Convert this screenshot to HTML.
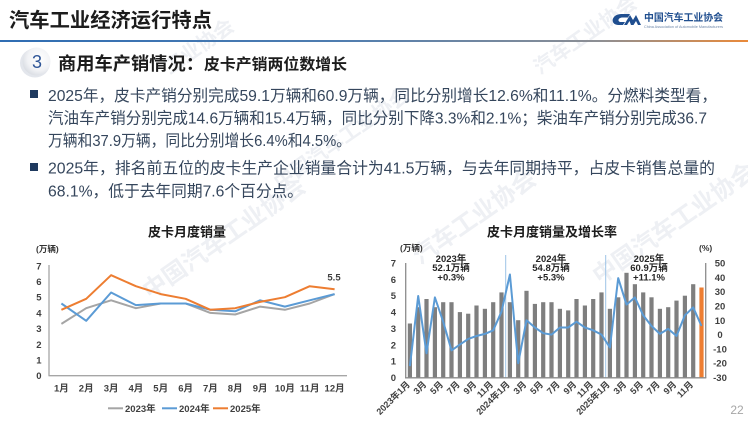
<!DOCTYPE html>
<html><head><meta charset="utf-8"><style>
html,body{margin:0;padding:0;background:#fff;}
svg{display:block;}
text{font-family:"Liberation Sans","Noto Sans CJK SC",sans-serif;}
</style></head><body>
<svg width="748" height="421" viewBox="0 0 748 421" xmlns="http://www.w3.org/2000/svg">
<defs>
<linearGradient id="rule" x1="0" x2="1" y1="0" y2="0">
<stop offset="0" stop-color="#2f6db3"/><stop offset="0.45" stop-color="#4f7db0"/><stop offset="0.8" stop-color="#8d8f94"/><stop offset="1" stop-color="#ea8a3a"/>
</linearGradient>
<radialGradient id="circ" cx="0.6" cy="0.4" r="0.7">
<stop offset="0" stop-color="#ffffff"/><stop offset="0.6" stop-color="#f1f2f5"/><stop offset="1" stop-color="#d3d7de"/>
</radialGradient>
</defs>
<rect width="748" height="421" fill="#fff"/>

<!-- watermarks -->
<g fill="#eef0f4" font-weight="bold">
<text x="150" y="300" font-size="24" transform="rotate(-35 150 300)">中国汽车工业协会</text>
<text x="420" y="265" font-size="24" transform="rotate(-35 420 265)">汽车工业协会</text>
<text x="600" y="285" font-size="24" transform="rotate(-35 600 285)">中国汽车工业协会</text>
<text x="170" y="75" font-size="20" transform="rotate(-35 170 75)">工业协会</text>
<text x="540" y="75" font-size="20" transform="rotate(-35 540 75)">汽车工业协会</text>
<text x="280" y="190" font-size="20" transform="rotate(-35 280 190)">中国汽车工业协会</text>
</g>

<!-- header -->
<text x="9" y="27" font-size="20" font-weight="bold" fill="#1c1c1c" textLength="203" lengthAdjust="spacingAndGlyphs">汽车工业经济运行特点</text>
<rect x="0" y="40" width="748" height="2" fill="url(#rule)"/>
<!-- logo -->
<g fill="#1f4e8f">
<path d="M621,14 L630,14 L628,17.5 L622,17.5 C617.5,18 617.5,22 621,22 L625,22 L623,25 L618,25 C610,24.5 611,14.5 621,14 Z"/>
<path d="M624,25 L630,15 L633,20 L636,15 L641,25 L638,25 L636,21 L633.5,25 L631,25 L629.5,21 L627,25 Z"/>
</g>
<text x="644" y="21" font-size="10" font-weight="bold" fill="#1f4e8f" textLength="79" lengthAdjust="spacingAndGlyphs">中国汽车工业协会</text>
<text x="644" y="28" font-size="3.5" fill="#6d86a8" textLength="79" lengthAdjust="spacingAndGlyphs">China Association of Automobile Manufacturers</text>

<!-- section header -->
<ellipse cx="35" cy="63" rx="15" ry="14.5" fill="#e3e6ec"/>
<circle cx="36.5" cy="61.5" r="14" fill="url(#circ)"/>
<text x="37" y="68" font-size="18" fill="#2f5597" text-anchor="middle">3</text>
<text x="58" y="70" font-size="18" font-weight="bold" fill="#1c1c1c" textLength="146" lengthAdjust="spacingAndGlyphs">商用车产销情况：</text>
<text x="204" y="69.5" font-size="15.5" font-weight="bold" fill="#1c1c1c" textLength="143" lengthAdjust="spacingAndGlyphs">皮卡产销两位数增长</text>

<!-- bullets -->
<rect x="30" y="90" width="8" height="8" fill="#1f3a5f"/>
<rect x="30" y="163" width="8" height="8" fill="#1f3a5f"/>
<g font-size="15.8" fill="#35465c">
<text x="48" y="101" textLength="669" lengthAdjust="spacingAndGlyphs">2025年，皮卡产销分别完成59.1万辆和60.9万辆，同比分别增长12.6%和11.1%。分燃料类型看，</text>
<text x="48" y="123.5" textLength="659" lengthAdjust="spacingAndGlyphs">汽油车产销分别完成14.6万辆和15.4万辆，同比分别下降3.3%和2.1%；柴油车产销分别完成36.7</text>
<text x="48" y="146" textLength="303" lengthAdjust="spacingAndGlyphs">万辆和37.9万辆，同比分别增长6.4%和4.5%。</text>
<text x="48" y="173.5" textLength="667" lengthAdjust="spacingAndGlyphs">2025年，排名前五位的皮卡生产企业销量合计为41.5万辆，与去年同期持平，占皮卡销售总量的</text>
<text x="48" y="196.5" textLength="255" lengthAdjust="spacingAndGlyphs">68.1%，低于去年同期7.6个百分点。</text>
</g>

<!-- ===== left chart ===== -->
<text x="187" y="236.5" font-size="13" font-weight="bold" fill="#1c1c1c" text-anchor="middle">皮卡月度销量</text>
<text x="36" y="252" font-size="8.5" font-weight="bold" fill="#333">(万辆)</text>
<g font-size="9.5" font-weight="bold" fill="#404040" text-anchor="end">
<text x="41.5" y="379.2">0</text><text x="41.5" y="363.5">1</text><text x="41.5" y="347.8">2</text><text x="41.5" y="332.1">3</text>
<text x="41.5" y="316.4">4</text><text x="41.5" y="300.7">5</text><text x="41.5" y="285">6</text><text x="41.5" y="269.3">7</text>
</g>
<line x1="49" y1="265" x2="49" y2="376" stroke="#a6a6a6" stroke-width="1.3"/>
<line x1="48.5" y1="375.7" x2="347" y2="375.7" stroke="#a6a6a6" stroke-width="1.3"/>
<g font-size="9.5" font-weight="bold" fill="#404040" text-anchor="middle">
<text x="61.4" y="391.5">1月</text><text x="86.2" y="391.5">2月</text><text x="111.1" y="391.5">3月</text><text x="135.9" y="391.5">4月</text>
<text x="160.7" y="391.5">5月</text><text x="185.6" y="391.5">6月</text><text x="210.4" y="391.5">7月</text><text x="235.2" y="391.5">8月</text>
<text x="260.1" y="391.5">9月</text><text x="284.9" y="391.5">10月</text><text x="309.7" y="391.5">11月</text><text x="334.6" y="391.5">12月</text>
</g>
<g fill="none" stroke-width="2" stroke-linejoin="round">
<polyline stroke="#a5a5a5" points="61.4,323.9 86.2,308.2 111.1,300.3 135.9,308.2 160.7,303.5 185.6,303.5 210.4,312.9 235.2,314.5 260.1,306.6 284.9,309.8 309.7,303.5 334.6,294.1"/>
<polyline stroke="#5b9bd5" points="61.4,303.5 86.2,320.8 111.1,292.5 135.9,305.1 160.7,303.5 185.6,303.5 210.4,309.8 235.2,311.3 260.1,300.3 284.9,306.6 309.7,300.3 334.6,294.1"/>
<polyline stroke="#ed7d31" points="61.4,309.8 86.2,298.8 111.1,275.2 135.9,286.2 160.7,294.1 185.6,298.8 210.4,309.8 235.2,308.2 260.1,301.9 284.9,297.2 309.7,286.2 334.6,289.3"/>
</g>
<text x="334" y="280.5" font-size="9.5" font-weight="bold" fill="#404040" text-anchor="middle">5.5</text>
<g font-size="9.5" font-weight="bold" fill="#404040">
<line x1="108" y1="408.3" x2="123" y2="408.3" stroke="#a5a5a5" stroke-width="2"/>
<text x="125" y="412">2023年</text>
<line x1="162" y1="408.3" x2="177" y2="408.3" stroke="#5b9bd5" stroke-width="2"/>
<text x="179" y="412">2024年</text>
<line x1="213" y1="408.3" x2="228" y2="408.3" stroke="#ed7d31" stroke-width="2"/>
<text x="230" y="412">2025年</text>
</g>

<!-- ===== right chart ===== -->
<text x="552" y="236.5" font-size="13" font-weight="bold" fill="#1c1c1c" text-anchor="middle">皮卡月度销量及增长率</text>
<text x="400" y="251" font-size="8.5" font-weight="bold" fill="#333">(万辆)</text>
<text x="699" y="251" font-size="8.5" font-weight="bold" fill="#333">(%)</text>
<g font-size="9.5" font-weight="bold" fill="#404040" text-anchor="end">
<text x="396" y="381">0</text><text x="396" y="364.6">1</text><text x="396" y="348.3">2</text><text x="396" y="331.9">3</text>
<text x="396" y="315.6">4</text><text x="396" y="299.2">5</text><text x="396" y="282.8">6</text><text x="396" y="266.5">7</text>
</g>
<g font-size="9.5" font-weight="bold" fill="#404040" text-anchor="middle">
<text x="720" y="266.6">50</text><text x="720" y="280.9">40</text><text x="720" y="295.2">30</text><text x="720" y="309.5">20</text>
<text x="720" y="323.8">10</text><text x="720" y="338.1">0</text><text x="720" y="352.4">-10</text><text x="720" y="366.7">-20</text><text x="720" y="381">-30</text>
</g>
<line x1="505.7" y1="255" x2="505.7" y2="377.5" stroke="#9dc3e6" stroke-width="1"/>
<line x1="605.7" y1="255" x2="605.7" y2="377.5" stroke="#9dc3e6" stroke-width="1"/>
<g fill="#7f7f7f">
<rect x="407.8" y="323.5" width="4.2" height="54"/>
<rect x="416.1" y="307.2" width="4.2" height="70.3"/>
<rect x="424.4" y="299.0" width="4.2" height="78.5"/>
<rect x="432.8" y="307.2" width="4.2" height="70.3"/>
<rect x="441.1" y="302.2" width="4.2" height="75.3"/>
<rect x="449.4" y="302.2" width="4.2" height="75.3"/>
<rect x="457.8" y="312.1" width="4.2" height="65.4"/>
<rect x="466.1" y="313.7" width="4.2" height="63.8"/>
<rect x="474.4" y="305.5" width="4.2" height="72"/>
<rect x="482.8" y="308.8" width="4.2" height="68.7"/>
<rect x="491.1" y="302.2" width="4.2" height="75.3"/>
<rect x="499.4" y="292.4" width="4.2" height="85.1"/>
<rect x="507.8" y="302.2" width="4.2" height="75.3"/>
<rect x="516.1" y="320.2" width="4.2" height="57.3"/>
<rect x="524.4" y="290.8" width="4.2" height="86.7"/>
<rect x="532.8" y="303.9" width="4.2" height="73.6"/>
<rect x="541.1" y="302.2" width="4.2" height="75.3"/>
<rect x="549.4" y="302.2" width="4.2" height="75.3"/>
<rect x="557.8" y="308.8" width="4.2" height="68.7"/>
<rect x="566.1" y="310.4" width="4.2" height="67.1"/>
<rect x="574.4" y="299.0" width="4.2" height="78.5"/>
<rect x="582.8" y="305.5" width="4.2" height="72"/>
<rect x="591.1" y="299.0" width="4.2" height="78.5"/>
<rect x="599.4" y="292.4" width="4.2" height="85.1"/>
<rect x="607.8" y="308.8" width="4.2" height="68.7"/>
<rect x="616.1" y="297.3" width="4.2" height="80.2"/>
<rect x="624.4" y="272.8" width="4.2" height="104.7"/>
<rect x="632.8" y="284.2" width="4.2" height="93.3"/>
<rect x="641.1" y="292.4" width="4.2" height="85.1"/>
<rect x="649.4" y="297.3" width="4.2" height="80.2"/>
<rect x="657.8" y="308.8" width="4.2" height="68.7"/>
<rect x="666.1" y="307.2" width="4.2" height="70.3"/>
<rect x="674.4" y="300.6" width="4.2" height="76.9"/>
<rect x="682.8" y="295.7" width="4.2" height="81.8"/>
<rect x="691.1" y="284.2" width="4.2" height="93.3"/>
</g>
<rect x="699.4" y="287.5" width="4.2" height="90" fill="#ed7d31"/>
<line x1="405.7" y1="263" x2="405.7" y2="378" stroke="#8c8c8c" stroke-width="1.3"/>
<line x1="705.7" y1="263" x2="705.7" y2="378" stroke="#8c8c8c" stroke-width="1.3"/>
<line x1="405" y1="377.8" x2="706.3" y2="377.8" stroke="#8c8c8c" stroke-width="1.3"/>
<polyline fill="none" stroke="#5b9bd5" stroke-width="2" stroke-linejoin="round" points="409.9,366.1 418.2,296.0 426.5,353.2 434.9,297.4 443.2,321.7 451.5,350.4 459.9,344.6 468.2,338.9 476.5,336.0 484.9,333.9 493.2,330.3 501.5,311.7 509.9,274.5 518.2,363.2 526.5,320.3 534.9,327.5 543.2,333.2 551.5,334.6 559.9,327.5 568.2,327.5 576.5,321.7 584.9,327.5 593.2,330.3 601.5,334.6 609.9,347.5 618.2,278.1 626.5,304.6 634.9,297.4 643.2,315.3 651.5,326.0 659.9,333.9 668.2,328.9 676.5,336.0 684.9,315.3 693.2,307.4 701.5,326.0"/>
<g font-size="9.5" font-weight="bold" fill="#262626" text-anchor="middle">
<text x="451" y="262">2023年</text><text x="451" y="271.2">52.1万辆</text><text x="451" y="280.5">+0.3%</text>
<text x="551" y="262">2024年</text><text x="551" y="271.2">54.8万辆</text><text x="551" y="280.5">+5.3%</text>
<text x="649" y="262">2025年</text><text x="649" y="271.2">60.9万辆</text><text x="649" y="280.5">+11.1%</text>
</g>
<g font-size="9" font-weight="bold" fill="#404040" text-anchor="end">
<text transform="translate(410.5,385) rotate(-45)">2023年1月</text>
<text transform="translate(427,385) rotate(-45)">3月</text>
<text transform="translate(443.7,385) rotate(-45)">5月</text>
<text transform="translate(460.4,385) rotate(-45)">7月</text>
<text transform="translate(477,385) rotate(-45)">9月</text>
<text transform="translate(493.7,385) rotate(-45)">11月</text>
<text transform="translate(510.4,385) rotate(-45)">2024年1月</text>
<text transform="translate(527,385) rotate(-45)">3月</text>
<text transform="translate(543.7,385) rotate(-45)">5月</text>
<text transform="translate(560.4,385) rotate(-45)">7月</text>
<text transform="translate(577,385) rotate(-45)">9月</text>
<text transform="translate(593.7,385) rotate(-45)">11月</text>
<text transform="translate(610.4,385) rotate(-45)">2025年1月</text>
<text transform="translate(627,385) rotate(-45)">3月</text>
<text transform="translate(643.7,385) rotate(-45)">5月</text>
<text transform="translate(660.4,385) rotate(-45)">7月</text>
<text transform="translate(677,385) rotate(-45)">9月</text>
<text transform="translate(693.7,385) rotate(-45)">11月</text>
</g>
<text x="737" y="414" font-size="12" fill="#a6a6a6" text-anchor="middle">22</text>
</svg>
</body></html>
